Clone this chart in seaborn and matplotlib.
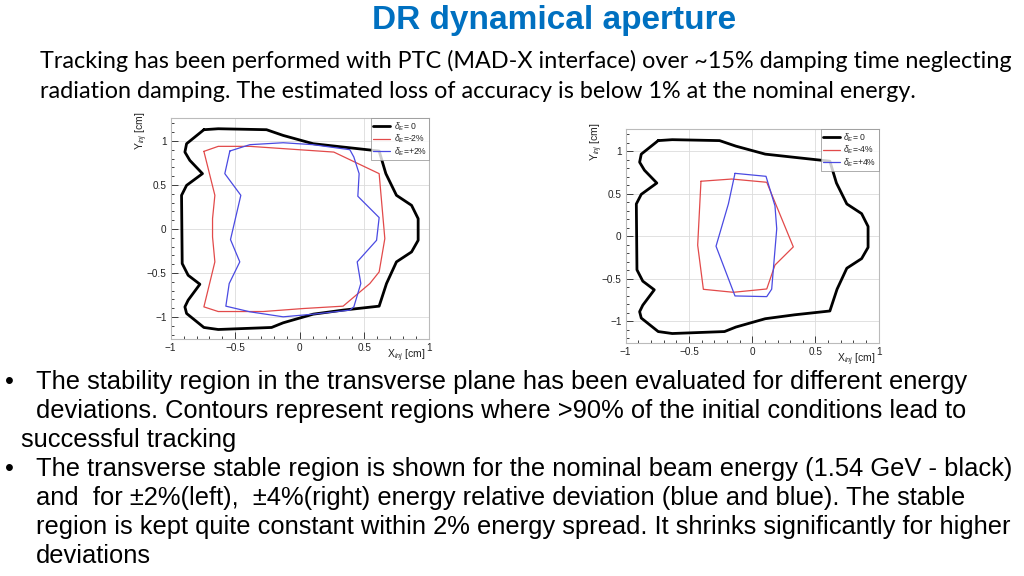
import numpy as np
import matplotlib
matplotlib.use("Agg")
import matplotlib.pyplot as plt
import seaborn as sns

# contours (x, y in cm)
black_x = [-0.743, -0.632, -0.258, -0.129, 0.103, 0.335, 0.614, 0.666, 0.748, 0.865, 0.916, 0.916,
           0.865, 0.748, 0.671, 0.614, 0.335, 0.103, -0.129, -0.219, -0.632, -0.743, -0.877, -0.890,
           -0.865, -0.774, -0.865, -0.911, -0.916, -0.877, -0.754, -0.852, -0.890, -0.877]
black_y = [1.127, 1.138, 1.127, 1.062, 0.968, 0.930, 0.885, 0.628, 0.382, 0.268, 0.117, -0.129,
           -0.261, -0.374, -0.620, -0.877, -0.922, -0.968, -1.066, -1.119, -1.142, -1.119, -0.960, -0.885,
           -0.809, -0.628, -0.526, -0.393, 0.382, 0.495, 0.628, 0.779, 0.873, 0.968]

red2_x = [-0.743, -0.632, -0.387, 0.263, 0.614, 0.658, 0.614, 0.542, 0.335, 0.026, -0.284, -0.632,
          -0.743, -0.658, -0.676, -0.676, -0.658]
red2_y = [0.881, 0.938, 0.938, 0.873, 0.628, -0.110, -0.488, -0.620, -0.877, -0.904, -0.938, -0.938,
          -0.885, -0.374, -0.091, 0.117, 0.382]

blue2_x = [-0.542, -0.387, -0.129, 0.103, 0.387, 0.418, 0.459, 0.449, 0.614, 0.594, 0.444, 0.472,
           0.418, 0.387, 0.103, -0.129, -0.387, -0.573, -0.547, -0.465, -0.537, -0.457, -0.581]
blue2_y = [0.885, 0.957, 0.979, 0.957, 0.900, 0.817, 0.628, 0.371, 0.129, -0.129, -0.374, -0.620,
           -0.885, -0.922, -0.968, -0.998, -0.941, -0.877, -0.620, -0.374, -0.121, 0.382, 0.628]

red4_x = [-0.405, -0.162, 0.115, 0.325, 0.180, 0.115, -0.149, -0.386, -0.431]
red4_y = [0.649, 0.675, 0.637, -0.123, -0.337, -0.618, -0.657, -0.622, -0.103]

blue4_x = [-0.136, 0.109, 0.180, 0.194, 0.154, 0.115, -0.136, -0.286, -0.188]
blue4_y = [0.742, 0.707, 0.360, 0.090, -0.620, -0.708, -0.700, -0.115, 0.384]

ticks = [-1, -0.5, 0, 0.5, 1]
tick_labels = ["\u22121", "\u22120.5", "0", "0.5", "1"]

title = "DR dynamical aperture"
intro = ["Tracking has been performed with PTC (MAD-X interface) over ~15% damping time neglecting",
         "radiation damping. The estimated loss of accuracy is below 1% at the nominal energy."]
bullets = [
    ("•", "The stability region in the transverse plane has been evaluated for different energy", 36),
    ("", "deviations. Contours represent regions where >90% of the initial conditions lead to", 36),
    ("", "successful tracking", 21),
    ("•", "The transverse stable region is shown for the nominal beam energy (1.54 GeV - black)", 36),
    ("", "and  for \u00b12%(left),  \u00b14%(right) energy relative deviation (blue and blue). The stable", 36),
    ("", "region is kept quite constant within 2% energy spread. It shrinks significantly for higher", 36),
    ("", "deviations", 36),
]

sns.set_theme(style="white")
plt.rcParams["font.family"] = ["Liberation Sans", "DejaVu Sans"]
plt.rcParams["mathtext.fontset"] = "custom"
plt.rcParams["mathtext.rm"] = "Liberation Sans"
plt.rcParams["mathtext.it"] = "Liberation Sans:italic"

W, H = 1024, 576
fig = plt.figure(figsize=(W / 100, H / 100), dpi=100)
fig.patch.set_facecolor("white")


def closed(a):
    return np.append(a, a[0])


def panel(rect, curves, labels):
    ax = fig.add_axes(rect)
    for (cx, cy, col, lw), lab in zip(curves, labels):
        sns.lineplot(x=closed(cx), y=closed(cy), sort=False, estimator=None,
                     color=col, lw=lw, ax=ax, label=lab)
    ax.set_xlim(-1, 1)
    ax.set_ylim(-1.25, 1.26)
    ax.set_xticks(ticks)
    ax.set_yticks(ticks)
    ax.set_xticklabels(tick_labels)
    ax.set_yticklabels(tick_labels)
    ax.set_xticks(np.arange(-1, 1.01, 0.1), minor=True)
    ax.set_yticks(np.arange(-1.2, 1.21, 0.1), minor=True)
    ax.tick_params(which="both", direction="in", bottom=True, left=True, labelsize=7.2,
                   colors="#222222", width=0.6)
    ax.tick_params(which="major", length=5, pad=3)
    ax.tick_params(which="minor", length=2.5)
    ax.grid(True, which="major", color="#dcdcdc", lw=0.6)
    for s in ax.spines.values():
        s.set_color("#bbbbbb")
        s.set_linewidth(0.8)
    ax.set_xlabel("X$_{inj}$ [cm]", fontsize=7.5, loc="right", color="#222222")
    ax.set_ylabel("Y$_{inj}$ [cm]", fontsize=7.5, loc="top", color="#222222")
    ax.xaxis.set_label_coords(0.985, -0.04)
    ax.yaxis.set_label_coords(-0.08, 1.03)
    leg = ax.legend(loc="upper right", fontsize=6.2, frameon=True, fancybox=False,
                    borderaxespad=0.0, handlelength=2.0, labelspacing=0.0,
                    borderpad=0.25, handletextpad=0.4)
    leg.get_frame().set_edgecolor("#888888")
    leg.get_frame().set_linewidth(0.6)
    return ax


red = "#e24a4a"
blue = "#4a4ae2"
panel([170.7 / W, 1 - 339 / H, 258.3 / W, 221 / H],
      [(black_x, black_y, "black", 2.0), (red2_x, red2_y, red, 0.9), (blue2_x, blue2_y, blue, 0.9)],
      [r"$\delta_E$= 0", r"$\delta_E$=-2%", r"$\delta_E$=+2%"])
panel([625.7 / W, 1 - 342.7 / H, 253 / W, 213.4 / H],
      [(black_x, black_y, "black", 2.0), (red4_x, red4_y, red, 0.9), (blue4_x, blue4_y, blue, 0.9)],
      [r"$\delta_E$= 0", r"$\delta_E$=-4%", r"$\delta_E$=+4%"])

# slide texts
fig.text(554 / W, 1 - 29 / H, title, ha="center", va="baseline", fontsize=24,
         fontweight="bold", color="#0070c0")
for i, line in enumerate(intro):
    fig.text(40 / W, 1 - (68 + 30 * i) / H, line, ha="left", va="baseline", fontsize=16.8,
             family=["Lato", "DejaVu Sans"], color="black")
for i, (mark, line, x0) in enumerate(bullets):
    yb = 1 - (389 + 29 * i) / H
    if mark:
        fig.text(5 / W, yb, mark, ha="left", va="baseline", fontsize=18.4, color="black")
    fig.text(x0 / W, yb, line, ha="left", va="baseline", fontsize=18.4, color="black")

fig.savefig("out.png", dpi=100)
